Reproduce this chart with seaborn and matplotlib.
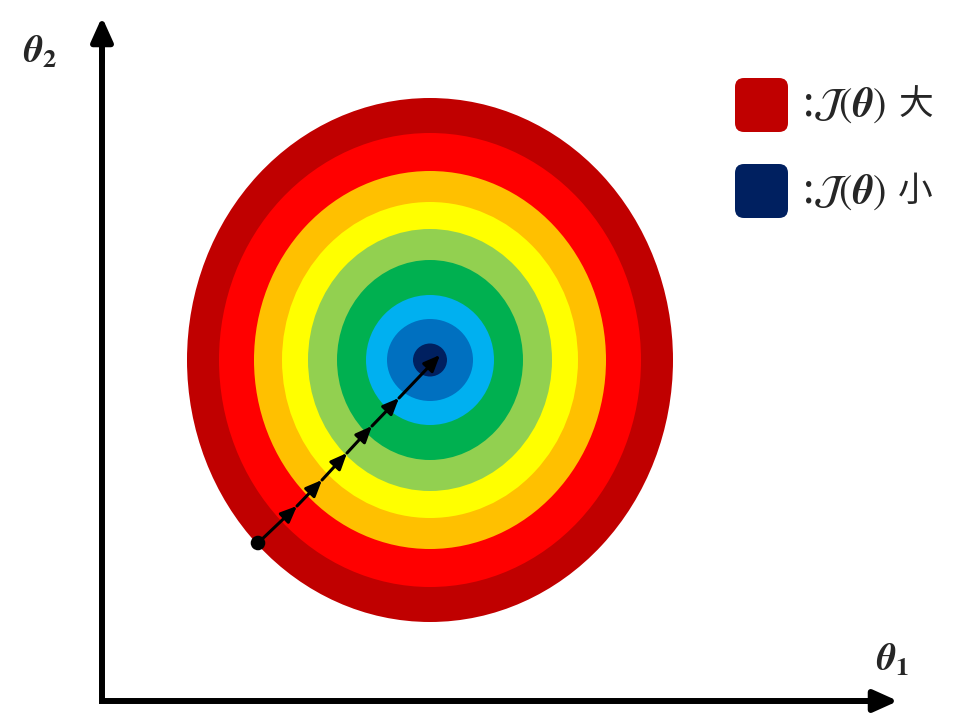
import numpy as np
import pandas as pd
import seaborn as sns
import matplotlib.pyplot as plt
from matplotlib.patches import Ellipse, FancyBboxPatch

sns.set_style("white")
plt.rcParams['font.family'] = ['Noto Sans CJK SC', 'DejaVu Sans']
plt.rcParams['mathtext.fontset'] = 'stix'

# contour rings of J(theta), outermost (largest J) to innermost
center = (3.28, 3.41)
ring_rx = [2.43, 2.11, 1.76, 1.48, 1.22, 0.93, 0.64, 0.43, 0.17]
ring_ry = [2.62, 2.27, 1.89, 1.58, 1.31, 1.00, 0.65, 0.41, 0.165]
ring_colors = ['#C00000', '#FF0000', '#FFC000', '#FFFF00', '#92D050',
               '#00B050', '#00B0F0', '#0070C0', '#002060']

# gradient descent steps
path_t1 = [1.56, 1.95, 2.20, 2.45, 2.70, 2.97, 3.38]
path_t2 = [1.58, 1.95, 2.21, 2.48, 2.75, 3.03, 3.46]

legend_math = r':$\mathcal{J}(\mathbfit{\theta})$'
legend_words = ['大', '小']
legend_colors = ['#C00000', '#002060']

fig = plt.figure(figsize=(9.6, 7.2), dpi=100)
ax = fig.add_axes([0, 0, 1, 1])
ax.set_xlim(-1.02, 8.58)
ax.set_ylim(-0.19, 7.01)
ax.axis('off')

for rx, ry, c in zip(ring_rx, ring_ry, ring_colors):
    ax.add_patch(Ellipse(center, 2 * rx, 2 * ry, facecolor=c, edgecolor='none', zorder=1))

# path with arrowheads on every step
for i in range(len(path_t1) - 1):
    ax.annotate('', xy=(path_t1[i + 1], path_t2[i + 1]), xytext=(path_t1[i], path_t2[i]),
                arrowprops=dict(arrowstyle='-|>,head_length=0.7,head_width=0.3', color='k',
                                lw=2.2, mutation_scale=14, shrinkA=0, shrinkB=0), zorder=3)
df = pd.DataFrame({'t1': path_t1[:1], 't2': path_t2[:1]})
sns.scatterplot(data=df, x='t1', y='t2', color='k', s=110, edgecolor='none', ax=ax, zorder=4)

# axes with arrows
ax.plot([0, 0, 7.8], [6.7, 0, 0], color='k', lw=4.3, solid_joinstyle='miter',
        solid_capstyle='butt', zorder=2)
arrow_style = '-|>,head_length=0.6,head_width=0.27'
ax.annotate('', xy=(7.96, 0), xytext=(7.5, 0),
            arrowprops=dict(arrowstyle=arrow_style, color='k', lw=4.3, mutation_scale=24,
                            shrinkA=0, shrinkB=0))
ax.annotate('', xy=(0, 6.84), xytext=(0, 6.4),
            arrowprops=dict(arrowstyle=arrow_style, color='k', lw=4.3, mutation_scale=24,
                            shrinkA=0, shrinkB=0))
ax.text(-0.62, 6.49, r'$\mathbfit{\theta}_\mathbf{2}$', fontsize=27, ha='center', va='center')
ax.text(7.91, 0.41, r'$\mathbfit{\theta}_\mathbf{1}$', fontsize=27, ha='center', va='center')

# legend boxes
for i, (word, c) in enumerate(zip(legend_words, legend_colors)):
    y0 = 5.69 - 0.86 * i
    ax.add_patch(FancyBboxPatch((6.33, y0), 0.53, 0.54,
                                boxstyle='round,pad=0,rounding_size=0.09',
                                facecolor=c, edgecolor='none'))
    t = ax.text(7.0, y0 + 0.27, legend_math, fontsize=29, ha='left', va='center')
    ax.annotate(word, xy=(1, 0.5), xycoords=t, xytext=(9, 0), textcoords='offset points',
                fontsize=25, ha='left', va='center')

fig.savefig('out.png', dpi=100)
